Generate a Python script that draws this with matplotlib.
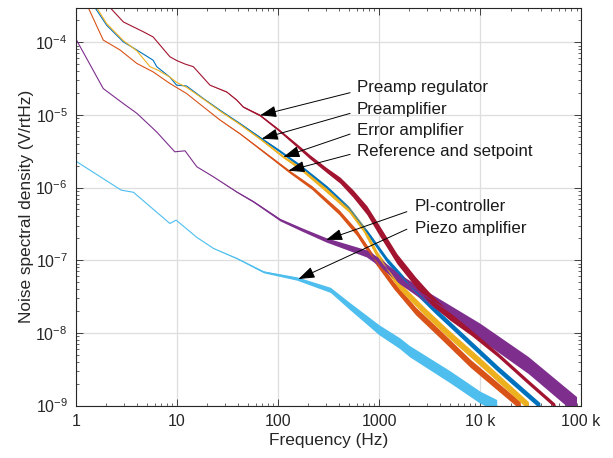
#!/usr/bin/env python3
"""
Noise spectral density of the controller stages, log-log plot with
arrow labels (MATLAB-like look).
"""
import numpy as np
import matplotlib
matplotlib.use("Agg")
import matplotlib.pyplot as plt
from matplotlib.ticker import (LogLocator, NullFormatter, FixedLocator,
                               FixedFormatter, LogFormatterSciNotation)

plt.rcParams['font.family'] = ['Liberation Sans', 'DejaVu Sans']
plt.rcParams['mathtext.default'] = 'regular'

# ---- data (Hz, V/rtHz) ----
f_preamp = [1.54, 2.01, 2.94, 4, 5.8, 6.3, 8.5, 9.9, 12.4, 18.2, 26.6, 42, 69, 100,
            165, 305, 500, 800, 1200, 2000, 3500, 6200, 15000, 39000]
v_preamp = [3.0e-4, 1.71e-4, 1.01e-4, 7.8e-5, 5.65e-5, 4.6e-5, 3.3e-5, 2.56e-5, 2.5e-5,
            1.68e-5, 1.16e-5, 7.6e-6, 4.7e-6, 3.3e-6, 2.0e-6, 1.0e-6, 5.2e-7, 2.2e-7,
            1.0e-7, 4.5e-8, 2.1e-8, 1.0e-8, 3.2e-9, 1.0e-9]

f_ref = [1.32, 1.86, 2.73, 4, 5.8, 8.5, 12.4, 18.2, 26.6, 42, 70, 131, 216, 400, 600,
         850, 1400, 2300, 3900, 8000, 25000]
v_ref = [3.0e-4, 1.07e-4, 7.8e-5, 5.1e-5, 3.9e-5, 2.7e-5, 1.97e-5, 1.29e-5, 8.5e-6,
         5.5e-6, 3.2e-6, 1.64e-6, 1.0e-6, 4.6e-7, 2.4e-7, 1.15e-7, 4.5e-8, 2.0e-8,
         1.0e-8, 3.8e-9, 1.0e-9]

f_err = [1.6, 2.01, 2.94, 4, 5.4, 6.5, 8.5, 9.9, 12.4, 18.2, 26.6, 42, 69, 113, 165,
         280, 500, 700, 970, 1600, 2800, 4750, 10000, 30000]
v_err = [3.0e-4, 1.8e-4, 1.05e-4, 7.6e-5, 4.6e-5, 4.1e-5, 3.3e-5, 2.8e-5, 2.4e-5,
         1.65e-5, 1.13e-5, 7.4e-6, 4.5e-6, 2.64e-6, 1.85e-6, 1.0e-6, 5.0e-7, 2.7e-7,
         1.15e-7, 4.4e-8, 2.0e-8, 1.0e-8, 4.0e-9, 1.0e-9]

f_pi = [1, 1.86, 2.94, 4, 6.3, 9.5, 12, 15.7, 23, 39, 57, 105, 177, 300, 750, 1000,
        1600, 3400, 10000, 30000, 90000]
v_pi = [1.1e-4, 2.3e-5, 1.43e-5, 1.05e-5, 5.8e-6, 3.1e-6, 3.2e-6, 1.93e-6, 1.4e-6,
        8.7e-7, 6.4e-7, 3.6e-7, 2.6e-7, 1.9e-7, 1.24e-7, 9.5e-8, 5.5e-8, 2.75e-8,
        1.05e-8, 3.6e-9, 1.0e-9]

f_piezo = [1, 2.8, 3.7, 8.5, 9.8, 15.7, 23, 39, 72, 153, 330, 500, 1000, 1600, 2000,
           5000, 10000, 14600]
v_piezo = [2.3e-6, 9.2e-7, 8.6e-7, 3.2e-7, 3.56e-7, 2.06e-7, 1.45e-7, 1.06e-7, 6.9e-8,
           5.6e-8, 3.9e-8, 2.4e-8, 1.1e-8, 7.2e-9, 5.6e-9, 2.5e-9, 1.3e-9, 1.0e-9]

f_reg = [2.17, 2.94, 4.64, 5.8, 8.5, 9.9, 12, 14.5, 21.2, 31, 39, 45, 66, 100, 150,
         207, 300, 411, 550, 755, 1000, 1500, 2300, 3400, 5000, 8200, 15000, 30000, 55000]
v_reg = [3.0e-4, 1.9e-4, 1.39e-4, 1.18e-4, 6.3e-5, 5.6e-5, 5.0e-5, 4.6e-5, 2.56e-5,
         2.07e-5, 1.6e-5, 1.29e-5, 9.9e-6, 6.3e-6, 3.9e-6, 2.64e-6, 1.75e-6, 1.26e-6,
         8.3e-7, 4.9e-7, 2.6e-7, 1.05e-7, 5.0e-8, 2.75e-8, 1.7e-8, 1.0e-8, 5.0e-9,
         2.1e-9, 1.0e-9]

labels = ["Preamp regulator", "Preamplifier", "Error amplifier",
          "Reference and setpoint", "PI-controller", "Piezo amplifier"]
# frequency where each arrow touches its curve
tip_freq = [66.4, 69, 113, 126.5, 299, 159]

xtick_vals = [1, 10, 100, 1000, 1e4, 1e5]
xtick_text = ["1", "10", "100", "1000", "10 k", "100 k"]
ytick_vals = [1e-9, 1e-8, 1e-7, 1e-6, 1e-5, 1e-4]

# ---- styles ----
C_BLUE = '#0072BD'
C_ORANGE = '#D95319'
C_YELLOW = '#EDB120'
C_PURPLE = '#7E2F8E'
C_LBLUE = '#4DBEEE'
C_RED = '#A2142F'

PX_PER_DEC = 72.7
KNOTS = [1.3, 2.0, 2.5, 3.0, 3.5, 4.0, 5.0]   # log10(f) knots for noise band
series = [
    # f, v, color, noise band half-width (px) at KNOTS
    (f_preamp, v_preamp, C_BLUE, [0, 1.2, 1.8, 2.5, 3, 3, 3]),
    (f_ref, v_ref, C_ORANGE, [0, 1.2, 2.2, 3.5, 4, 4, 4]),
    (f_err, v_err, C_YELLOW, [0, 1.2, 2.2, 3.5, 4, 4, 4]),
    (f_pi, v_pi, C_PURPLE, [0, 1.2, 2.2, 4, 6, 8, 9]),
    (f_piezo, v_piezo, C_LBLUE, [0, 1.2, 2.5, 5, 6, 6, 6]),
    (f_reg, v_reg, C_RED, [0, 1.2, 2.5, 5, 5, 2.2, 2.2]),
]
label_curve = [5, 0, 2, 1, 3, 4]  # index into series for each label

fig = plt.figure(figsize=(6.13, 4.58), dpi=100)
ax = fig.add_axes([0.124, 0.1146, 0.824, 0.869])

for f, v, col, kw in series:
    f = np.asarray(f, float)
    v = np.asarray(v, float)
    hw = np.interp(np.log10(f), KNOTS, kw) / PX_PER_DEC
    ax.fill_between(f, v * 10 ** (-hw), v * 10 ** hw, color=col, lw=0)
    ax.plot(f, v, color=col, lw=0.8)

ax.set_xscale('log')
ax.set_yscale('log')
ax.set_xlim(1, 1e5)
ax.set_ylim(1e-9, 3e-4)

ax.xaxis.set_major_locator(FixedLocator(xtick_vals))
ax.xaxis.set_major_formatter(FixedFormatter(xtick_text))
ax.xaxis.set_minor_locator(LogLocator(base=10, subs=np.arange(2, 10), numticks=20))
ax.xaxis.set_minor_formatter(NullFormatter())
ax.yaxis.set_major_locator(FixedLocator(ytick_vals))
ax.yaxis.set_major_formatter(LogFormatterSciNotation())
ax.yaxis.set_minor_locator(LogLocator(base=10, subs=np.arange(2, 10), numticks=20))
ax.yaxis.set_minor_formatter(NullFormatter())

ax.tick_params(which='both', direction='in', top=True, right=True,
               colors='#262626', labelsize=11.5, labelcolor='#262626')
ax.tick_params(which='major', length=5, width=0.6, pad=6)
ax.tick_params(which='minor', length=2.5, width=0.5)
for s in ax.spines.values():
    s.set_color('#262626')
    s.set_linewidth(0.8)

ax.set_axisbelow(True)
ax.grid(which='major', color='#dedede', lw=0.9)

ax.set_xlabel("Frequency (Hz)", fontsize=12.4, color='#262626', labelpad=3)
ax.set_ylabel("Noise spectral density (V/rtHz)", fontsize=12.4, color='#262626', labelpad=1)

# ---- arrow labels ----
text_x = [0.5564] * 4 + [0.671] * 2
text_y = [0.799, 0.744, 0.692, 0.637, 0.501, 0.446]
tail_x = [0.5426] * 4 + [0.655] * 2
tail_y = [0.786, 0.734, 0.682, 0.631, 0.487, 0.443]

for i, lab in enumerate(labels):
    f, v = series[label_curve[i]][0], series[label_curve[i]][1]
    tv = 10 ** np.interp(np.log10(tip_freq[i]), np.log10(f), np.log10(v))
    ax.annotate('', xy=(tip_freq[i], tv), xycoords='data',
                xytext=(tail_x[i], tail_y[i]), textcoords='axes fraction',
                arrowprops=dict(arrowstyle='-|>,head_length=1.0,head_width=0.35',
                                color='black', lw=0.7, shrinkA=0, shrinkB=0),
                zorder=10)
    ax.text(text_x[i], text_y[i], lab, transform=ax.transAxes, ha='left',
            va='center', fontsize=12.2, color='#1a1a1a', zorder=11)

fig.savefig("out.png", dpi=100)
